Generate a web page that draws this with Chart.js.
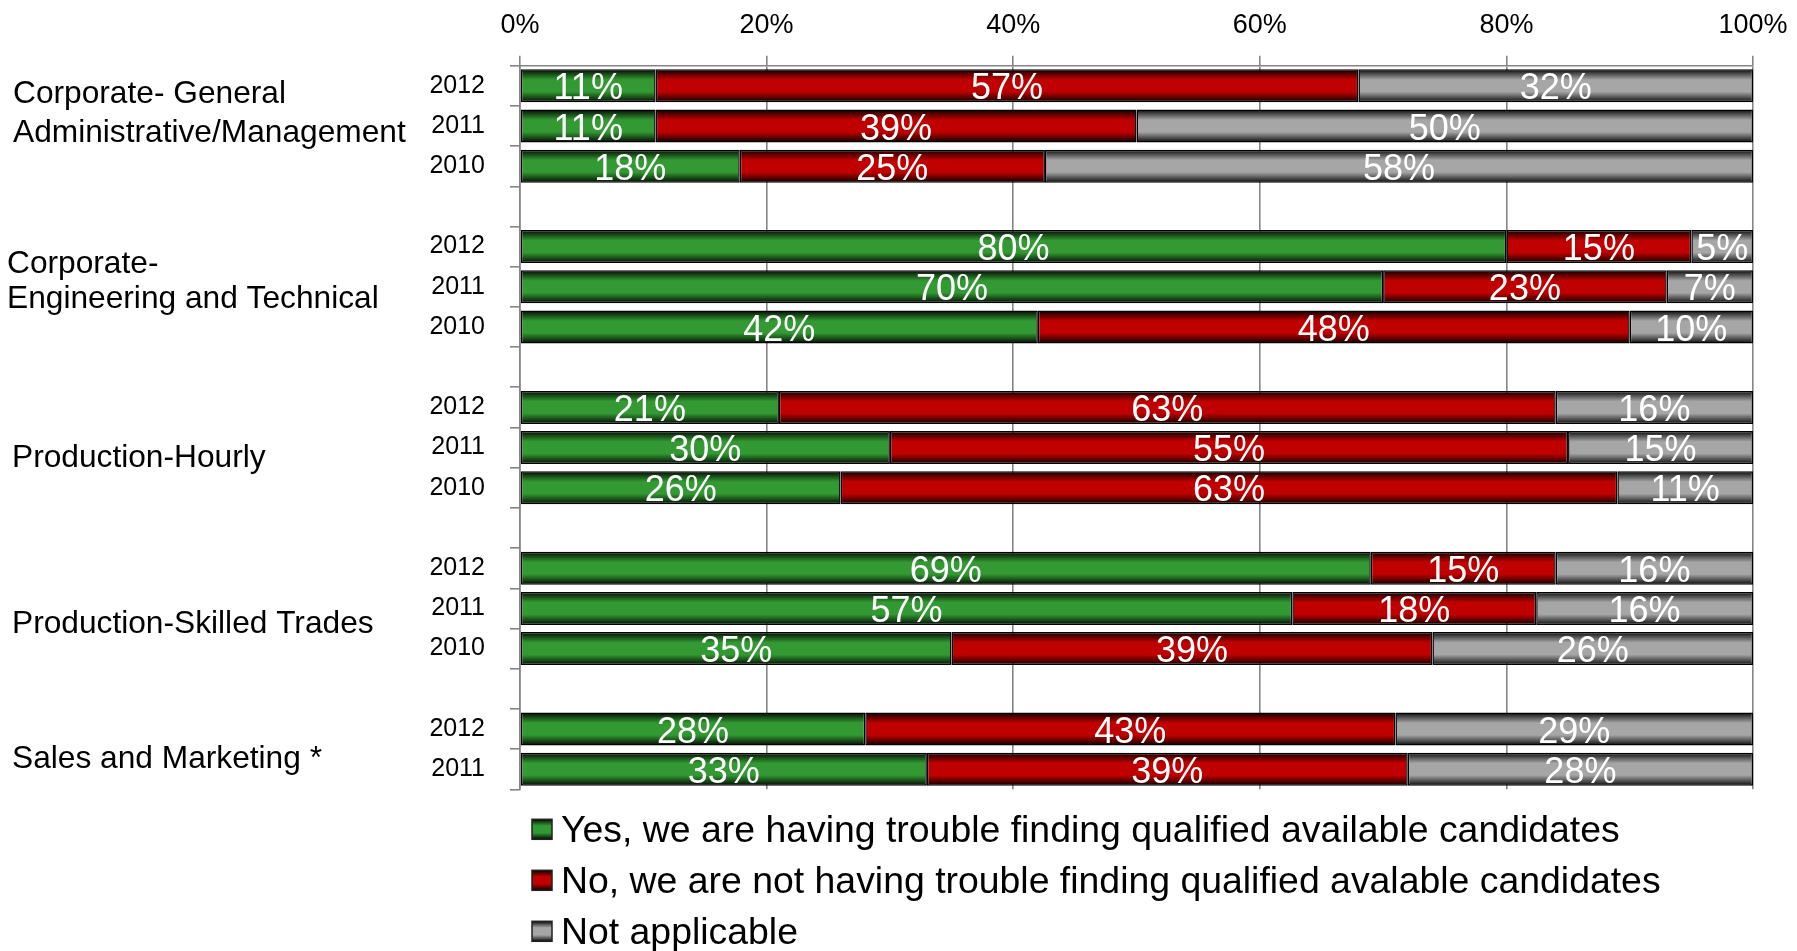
<!DOCTYPE html>
<html>
<head>
<meta charset="utf-8">
<script src="https://cdn.jsdelivr.net/npm/chart.js@4.4.1/dist/chart.umd.min.js"></script>
<style>
  html, body { margin: 0; padding: 0; background: #fff; overflow: hidden; }
  canvas { display: block; }
</style>
</head>
<body>
<canvas id="chart" width="1797" height="951"></canvas>
<script>
// Job groups (one label block per group) and the survey years shown for each
const groupNames = [
  ['Corporate- General', 'Administrative/Management'],
  ['Corporate-', 'Engineering and Technical'],
  ['Production-Hourly'],
  ['Production-Skilled Trades'],
  ['Sales and Marketing *']
];
const groupYears = [
  ['2012', '2011', '2010'],
  ['2012', '2011', '2010'],
  ['2012', '2011', '2010'],
  ['2012', '2011', '2010'],
  ['2012', '2011']
];

// Answers per group and year, in percent
const yesTrouble    = [[11, 11, 18], [80, 70, 42], [21, 30, 26], [69, 57, 35], [28, 33]];
const noTrouble     = [[57, 39, 25], [15, 23, 48], [63, 55, 63], [15, 18, 39], [43, 39]];
const notApplicable = [[32, 50, 58], [5, 7, 10],   [16, 15, 11], [16, 16, 26], [29, 28]];

const seriesNames = [
  'Yes, we are having trouble finding qualified available candidates',
  'No, we are not having trouble finding qualified avalable candidates',
  'Not applicable'
];
const seriesColors = ['#339933', '#c00000', '#a6a6a6'];
const axisTicks = [0, 20, 40, 60, 80, 100];

const FONT = '"Liberation Sans", Arial, Helvetica, sans-serif';
const BAR_PCT = 0.82;

// Flatten the groups into rows, with an empty row between groups
const rowLabels = [];
const groupFirstRow = [];
const rawRows = [[], [], []];
const seriesSource = [yesTrouble, noTrouble, notApplicable];
groupYears.forEach((years, g) => {
  if (g > 0) {
    rowLabels.push('');
    rawRows.forEach(r => r.push(null));
  }
  groupFirstRow.push(rowLabels.length);
  years.forEach((yr, i) => {
    rowLabels.push(yr);
    seriesSource.forEach((src, s) => rawRows[s].push(src[g][i]));
  });
});
// Each bar fills 100%: segments are the answers' shares of the row total
const rowTotals = rowLabels.map((_, i) =>
  rawRows[0][i] == null ? null : rawRows[0][i] + rawRows[1][i] + rawRows[2][i]);
const shareRows = rawRows.map(r => r.map((v, i) => v == null ? null : v / rowTotals[i] * 100));

// Group label placement: text baselines in row units below the group's first row centre
const groupLabelOffsets = [[0.435, 1.39], [0.65, 1.535], [1.475], [1.62], [0.98]];
const groupLabelX = [13, 7, 12, 12, 12];

function shade(hex, f) {
  const n = parseInt(hex.slice(1), 16);
  const r = Math.round(((n >> 16) & 255) * f);
  const g = Math.round(((n >> 8) & 255) * f);
  const b = Math.round((n & 255) * f);
  return `rgb(${r},${g},${b})`;
}

function tubeGradient(ctx, top, bottom, color) {
  const gr = ctx.createLinearGradient(0, top, 0, bottom);
  gr.addColorStop(0, '#000');
  gr.addColorStop(0.08, shade(color, 0.3));
  gr.addColorStop(0.32, color);
  gr.addColorStop(0.68, color);
  gr.addColorStop(0.92, shade(color, 0.3));
  gr.addColorStop(1, '#000');
  return gr;
}

function barFill(color) {
  return (context) => {
    const chart = context.chart;
    const area = chart.chartArea;
    const y = chart.scales.y;
    if (!area || !y || context.type !== 'data') return color;
    const rowH = (area.bottom - area.top) / rowLabels.length;
    const half = rowH * BAR_PCT / 2;
    const c = y.getPixelForValue(context.dataIndex);
    return tubeGradient(chart.ctx, c - half, c + half, color);
  };
}

const datasets = seriesNames.map((name, s) => ({
  label: name,
  data: shareRows[s],
  values: rawRows[s],
  baseColor: seriesColors[s],
  backgroundColor: barFill(seriesColors[s]),
  borderColor: '#000',
  borderWidth: 1.5,
  borderSkipped: false,
  barPercentage: BAR_PCT,
  categoryPercentage: 1.0
}));

// White value labels centred in each segment
const valueLabels = {
  id: 'valueLabels',
  afterDatasetsDraw(chart) {
    const c = chart.ctx;
    c.save();
    c.font = `36px ${FONT}`;
    c.fillStyle = '#fff';
    c.textAlign = 'center';
    c.textBaseline = 'alphabetic';
    chart.data.datasets.forEach((ds, di) => {
      chart.getDatasetMeta(di).data.forEach((bar, i) => {
        const v = ds.values[i];
        if (v == null) return;
        c.fillText(v + '%', (bar.x + bar.base) / 2, bar.y + 13.5);
      });
    });
    c.restore();
  }
};

// Group names on the far left and the legend below the bars
const sideLabelsAndLegend = {
  id: 'sideLabelsAndLegend',
  afterDraw(chart) {
    const c = chart.ctx;
    const area = chart.chartArea;
    const y = chart.scales.y;
    const rowH = (area.bottom - area.top) / rowLabels.length;
    c.save();
    c.fillStyle = '#000';
    c.textAlign = 'left';
    c.textBaseline = 'alphabetic';
    c.font = `31.7px ${FONT}`;
    groupNames.forEach((lines, g) => {
      const first = y.getPixelForValue(groupFirstRow[g]);
      lines.forEach((line, k) => {
        c.fillText(line, groupLabelX[g], first + groupLabelOffsets[g][k] * rowH);
      });
    });

    // Legend: one entry per line
    c.font = `37.4px ${FONT}`;
    const boxX = area.left + 12;
    const box = 20;
    chart.data.datasets.forEach((ds, i) => {
      const cy = area.bottom + 40 + i * 51;
      c.fillStyle = tubeGradient(c, cy - box / 2, cy + box / 2, ds.baseColor);
      c.fillRect(boxX, cy - box / 2, box, box);
      c.strokeStyle = '#222';
      c.lineWidth = 1.5;
      c.strokeRect(boxX, cy - box / 2, box, box);
      c.fillStyle = '#000';
      c.fillText(ds.label, boxX + 29, cy + 13);
    });
    c.restore();
  }
};

Chart.defaults.color = '#000';
Chart.defaults.font.family = FONT;

new Chart(document.getElementById('chart'), {
  type: 'bar',
  data: { labels: rowLabels, datasets },
  plugins: [valueLabels, sideLabelsAndLegend],
  options: {
    indexAxis: 'y',
    responsive: false,
    animation: false,
    events: [],
    layout: { padding: { left: 0, right: 44, top: 0, bottom: 161.7 } },
    plugins: { legend: { display: false }, tooltip: { enabled: false } },
    scales: {
      x: {
        position: 'top',
        stacked: true,
        min: 0,
        max: 100,
        afterBuildTicks(scale) { scale.ticks = axisTicks.map(v => ({ value: v })); },
        ticks: { callback: v => v + '%', font: { size: 27 }, color: '#000', padding: 14, maxRotation: 0 },
        grid: { color: '#858585', lineWidth: 1.6, tickLength: 10 },
        border: { color: '#858585', width: 1.6 },
        afterFit(scale) {
          scale.height = 65.7;
          scale.paddingLeft = 0;
          scale.paddingRight = 0;
        }
      },
      y: {
        stacked: true,
        ticks: { font: { size: 25 }, color: '#000', padding: 25, autoSkip: false },
        grid: { drawOnChartArea: false, tickLength: 10, color: '#858585', lineWidth: 1.6, offset: true },
        border: { color: '#858585', width: 1.6 },
        afterFit(scale) {
          scale.width = 520;
          scale.paddingTop = 0;
          scale.paddingBottom = 0;
        }
      }
    }
  }
});
</script>
</body>
</html>
